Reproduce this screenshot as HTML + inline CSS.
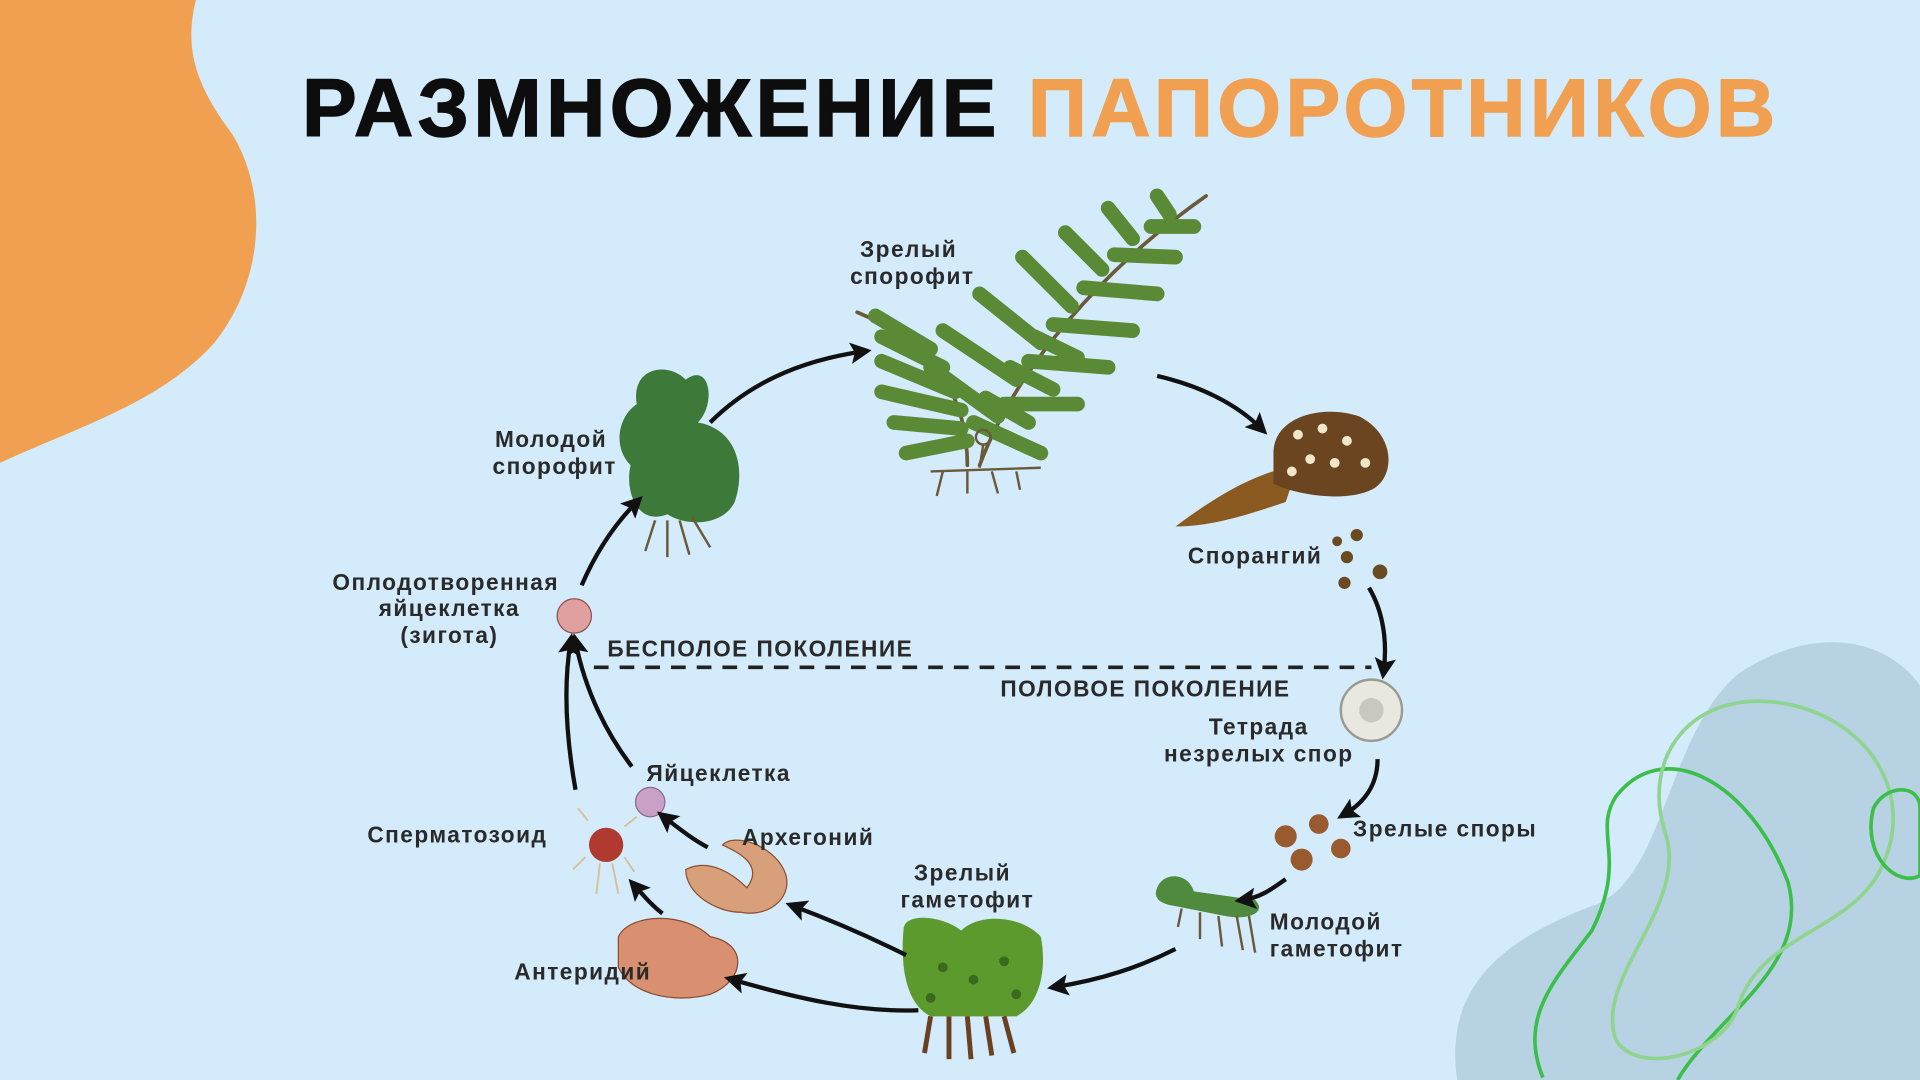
<!DOCTYPE html>
<html><head><meta charset="utf-8"><style>
html,body{margin:0;padding:0;width:1920px;height:1080px;overflow:hidden;background:#d3ebfb}
svg{display:block}
text{font-family:"Liberation Sans","DejaVu Sans",sans-serif}
.l{font-size:18.5px;fill:#2a2a2a;font-weight:bold;letter-spacing:1.2px}
</style></head><body>
<svg width="1920" height="1080" viewBox="0 0 1568 882" xmlns="http://www.w3.org/2000/svg">
<defs>
<marker id="a" viewBox="0 0 10 10" refX="6" refY="5" markerWidth="5" markerHeight="5" orient="auto"><path d="M0,0 L10,5 L0,10 L2,5z" fill="#111"/></marker>
</defs>
<rect width="1568" height="882" fill="#d3ebfb"/>
<path d="M0,0 L160,0 C150,40 160,70 190,110 C220,160 215,230 175,280 C130,330 60,350 0,378 Z" fill="#f0a050"/>
<path d="M1190,882 C1180,810 1220,770 1300,740 C1360,720 1360,600 1420,550 C1480,510 1540,520 1568,560 L1568,882 Z" fill="#b7d2e2"/>
<path d="M1260,880 C1240,830 1270,800 1300,760 C1330,700 1300,680 1320,650 C1360,600 1430,640 1460,720 C1480,790 1400,830 1370,882" fill="none" stroke="#3cbf4a" stroke-width="3"/>
<path d="M1320,850 C1300,800 1380,740 1360,680 C1340,620 1380,560 1460,575 C1530,590 1560,650 1540,700 C1520,760 1440,760 1420,820 C1410,860 1340,880 1320,850Z" fill="none" stroke="#8fd48f" stroke-width="3"/>
<path d="M1530,660 C1540,640 1568,640 1568,660 L1568,715 C1550,725 1520,700 1530,660Z" fill="none" stroke="#3cbf4a" stroke-width="3"/>
<text x="850" y="111" text-anchor="middle" font-size="67" font-weight="bold" letter-spacing="3.6" stroke-width="1.2"><tspan fill="#0d0d0d" stroke="#0d0d0d">РАЗМНОЖЕНИЕ </tspan><tspan fill="#f0a050" stroke="#f0a050">ПАПОРОТНИКОВ</tspan></text>

<g stroke="#4d7a2e" stroke-linecap="round" fill="none">
<path d="M800,380 C830,300 900,220 985,160" stroke-width="3" stroke="#6a5a3a"/>
<path d="M790,380 C790,320 760,280 700,255" stroke-width="3" stroke="#6a5a3a"/>
<g stroke-width="12" stroke="#5a8a35">
<path d="M815,340 L760,300"/><path d="M820,330 L880,330"/>
<path d="M830,310 L770,270"/><path d="M840,295 L905,300"/>
<path d="M850,280 L800,240"/><path d="M860,265 L925,270"/>
<path d="M875,250 L835,210"/><path d="M885,235 L945,240"/>
<path d="M900,220 L870,190"/><path d="M910,208 L960,210"/>
<path d="M925,195 L905,170"/><path d="M940,185 L975,185"/>
<path d="M955,175 L945,160"/>
<path d="M785,350 L730,345"/><path d="M785,335 L720,320"/><path d="M780,320 L720,295"/>
<path d="M770,300 L720,275"/><path d="M760,285 L715,258"/>
<path d="M790,360 L740,370"/><path d="M795,345 L850,370"/>
<path d="M805,325 L840,345"/><path d="M825,300 L860,318"/><path d="M845,275 L880,292"/>
</g></g>
<g stroke="#6a5a3a" stroke-width="2" fill="none"><path d="M760,385 L850,382"/><path d="M770,385 l-5,20 M790,385 l0,18 M810,385 l5,18 M830,385 l3,15"/>
<circle cx="803" cy="357" r="6"/><path d="M803,363 L800,382"/></g>

<path d="M520,330 C515,300 545,295 560,310 C580,295 585,330 570,345 C600,350 610,380 600,410 C590,430 560,430 545,420 C520,430 510,400 515,380 C500,365 505,340 520,330Z" fill="#3d7a3a"/>
<path d="M535,425 l-8,25 M545,425 l0,30 M555,425 l8,28 M565,422 l15,25" stroke="#6a5a3a" stroke-width="2"/>
<path d="M960,430 C1000,400 1030,385 1060,380 L1050,410 C1020,420 990,430 960,430Z" fill="#8a5a20"/>
<path d="M1040,370 C1040,340 1080,330 1110,340 C1140,355 1140,390 1120,400 C1100,410 1060,405 1040,395Z" fill="#6a4520"/>
<g fill="#f0e6c8"><circle cx="1060" cy="355" r="4"/><circle cx="1080" cy="350" r="4"/><circle cx="1100" cy="360" r="4"/><circle cx="1070" cy="375" r="4"/><circle cx="1090" cy="378" r="4"/><circle cx="1115" cy="378" r="4"/><circle cx="1055" cy="385" r="4"/></g>
<g fill="#6a4a20"><circle cx="1108" cy="437" r="5"/><circle cx="1092" cy="442" r="4"/><circle cx="1100" cy="455" r="5"/><circle cx="1127" cy="467" r="6"/><circle cx="1098" cy="476" r="5"/></g>
<circle cx="1120" cy="580" r="25" fill="#e8e8e0" stroke="#9a9a90" stroke-width="2"/>
<circle cx="1120" cy="580" r="10" fill="#c8c8c0"/>
<g fill="#9a5a30"><circle cx="1050" cy="683" r="9"/><circle cx="1077" cy="673" r="8"/><circle cx="1063" cy="702" r="9"/><circle cx="1095" cy="693" r="8"/></g>
<path d="M945,725 C950,712 970,712 975,728 L1025,735 C1035,745 1020,752 1000,748 L960,740 C945,738 942,732 945,725Z" fill="#4f8a3e"/>
<path d="M965,742 l-3,15 M980,745 l0,22 M995,748 l3,25 M1010,748 l5,28 M1020,748 l5,30" stroke="#6a5a3a" stroke-width="2"/>
<path d="M738,758 C740,745 770,748 785,760 C800,745 835,748 850,765 C855,790 850,820 830,830 L760,830 C740,820 735,790 738,758Z" fill="#5d9a2e"/>
<g fill="#3a6a1e"><circle cx="770" cy="790" r="4"/><circle cx="795" cy="800" r="4"/><circle cx="820" cy="785" r="4"/><circle cx="760" cy="815" r="4"/><circle cx="830" cy="812" r="4"/></g>
<path d="M760,830 l-5,30 M775,830 l0,35 M790,830 l3,35 M805,830 l5,32 M820,830 l8,30" stroke="#6a4020" stroke-width="4"/>
<path d="M560,710 C580,700 600,715 610,725 C625,705 600,695 590,690 C600,680 630,690 640,710 C650,730 630,750 605,745 C585,745 560,730 560,710Z" fill="#d8a07a" stroke="#8a5030"/>
<path d="M505,765 C515,745 560,745 580,765 C610,770 610,800 580,812 C550,820 515,812 505,790Z" fill="#d89070" stroke="#8a4a30"/>
<circle cx="495" cy="690" r="14" fill="#b03a30"/>
<g stroke="#d8c090" stroke-width="1.5"><path d="M480,670 l-8,-10 M510,675 l10,-8 M478,700 l-10,10 M510,700 l8,12 M490,705 l-3,25 M500,705 l5,25"/></g>
<circle cx="531" cy="655" r="12" fill="#c8a0c8" stroke="#8a6a8a"/>
<circle cx="469" cy="503" r="14" fill="#e0a0a0" stroke="#905050"/>

<g stroke="#111" stroke-width="3.5" fill="none" marker-end="url(#a)">
<path d="M580,345 C610,315 650,295 705,287"/>
<path d="M945,307 C980,315 1010,330 1030,350"/>
<path d="M1118,480 C1130,500 1133,525 1130,548"/>
<path d="M1125,620 C1125,640 1115,655 1098,665"/>
<path d="M1050,718 C1040,725 1030,733 1015,735"/>
<path d="M960,775 C930,790 900,800 862,806"/>
<path d="M750,825 C700,827 650,815 598,800"/>
<path d="M740,780 C710,765 680,752 648,740"/>
<path d="M578,692 C565,685 555,677 542,667"/>
<path d="M541,746 C533,740 527,733 518,723"/>
<path d="M470,645 C462,600 460,560 466,524"/>
<path d="M516,626 C496,600 478,565 470,524"/>
<path d="M475,478 C485,455 500,430 520,410"/>
</g>
<path d="M485,545 L1120,545" stroke="#222" stroke-width="3" stroke-dasharray="12,9"/>

<text class="l" x="742" y="210" text-anchor="middle">Зрелый</text>
<text class="l" x="745" y="232" text-anchor="middle">спорофит</text>
<text class="l" x="450" y="365" text-anchor="middle">Молодой</text>
<text class="l" x="453" y="387" text-anchor="middle">спорофит</text>
<text class="l" x="1025" y="460" text-anchor="middle">Спорангий</text>
<text class="l" x="364" y="482" text-anchor="middle">Оплодотворенная</text>
<text class="l" x="367" y="503" text-anchor="middle">яйцеклетка</text>
<text class="l" x="367" y="525" text-anchor="middle">(зигота)</text>
<text class="l" x="496" y="536">БЕСПОЛОЕ ПОКОЛЕНИЕ</text>
<text class="l" x="817" y="569">ПОЛОВОЕ ПОКОЛЕНИЕ</text>
<text class="l" x="1028" y="600" text-anchor="middle">Тетрада</text>
<text class="l" x="1028" y="622" text-anchor="middle">незрелых спор</text>
<text class="l" x="528" y="638">Яйцеклетка</text>
<text class="l" x="1105" y="683">Зрелые споры</text>
<text class="l" x="300" y="688">Сперматозоид</text>
<text class="l" x="606" y="690">Архегоний</text>
<text class="l" x="786" y="719" text-anchor="middle">Зрелый</text>
<text class="l" x="790" y="741" text-anchor="middle">гаметофит</text>
<text class="l" x="1037" y="759">Молодой</text>
<text class="l" x="1037" y="781">гаметофит</text>
<text class="l" x="420" y="800">Антеридий</text>
</svg>
</body></html>
